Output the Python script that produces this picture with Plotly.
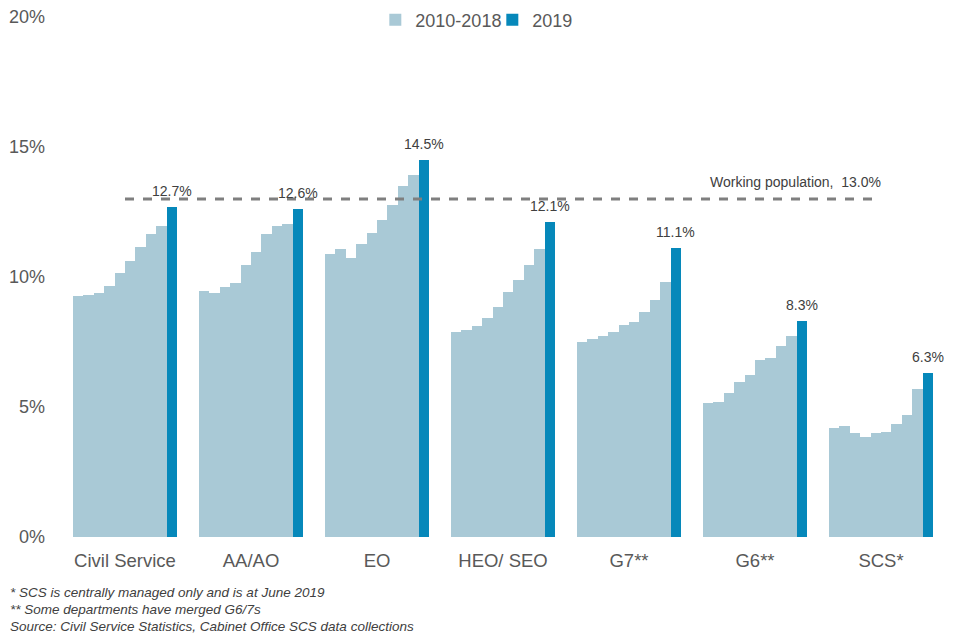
import plotly.graph_objects as go

# share of staff, %
grades = ["Civil Service", "AA/AO", "EO", "HEO/ SEO", "G7**", "G6**", "SCS*"]
years_past = ["2010", "2011", "2012", "2013", "2014", "2015", "2016", "2017", "2018"]
past = [
    [9.28, 9.32, 9.40, 9.67, 10.15, 10.62, 11.15, 11.65, 11.96],
    [9.46, 9.38, 9.63, 9.77, 10.46, 10.96, 11.65, 11.95, 12.04],
    [10.88, 11.07, 10.74, 11.27, 11.69, 12.19, 12.77, 13.50, 13.92],
    [7.88, 7.96, 8.11, 8.42, 8.85, 9.42, 9.88, 10.46, 11.08],
    [7.50, 7.62, 7.73, 7.88, 8.15, 8.27, 8.65, 9.13, 9.82],
    [5.15, 5.19, 5.54, 5.96, 6.23, 6.81, 6.88, 7.35, 7.73],
    [4.20, 4.27, 4.00, 3.85, 4.00, 4.04, 4.35, 4.69, 5.69],
]
latest = [12.7, 12.6, 14.5, 12.1, 11.1, 8.3, 6.3]
working_pop = 13.0
y_ticks = [0, 5, 10, 15, 20]

light = "#A9C9D6"
dark = "#0688BA"
txt = "#595959"
w = 0.0825

# x positions of each bar within its group
xs_past, ys_past = [], []
for i, vals in enumerate(past):
    for j, v in enumerate(vals):
        xs_past.append(i + (j - 4.5) * w)
        ys_past.append(v)
xs_new = [i + 4.5 * w for i in range(len(grades))]

fig = go.Figure()
fig.add_trace(go.Bar(x=xs_past, y=ys_past, width=w, name="2010-2018",
                     marker=dict(color=light, line_width=0)))
fig.add_trace(go.Bar(x=xs_new, y=latest, width=w * 0.95, name="2019",
                     marker=dict(color=dark, line_width=0)))

fig.add_trace(go.Scatter(x=[0, len(grades) - 1], y=[working_pop, working_pop], mode="lines",
                         line=dict(color="#7F7F7F", width=3, dash="dash"), showlegend=False,
                         hoverinfo="skip"))
fig.add_annotation(x=len(grades) - 1 + 0.012, y=working_pop, xanchor="right", yanchor="bottom",
                   yshift=7, text=f"Working population,  {working_pop:.1f}%", showarrow=False,
                   font=dict(size=14, color="#404040"))

# value labels on the 2019 bars
for x, v in zip(xs_new, latest):
    fig.add_annotation(x=x, y=v, yanchor="middle", yshift=16, text=f"{v:.1f}%",
                       showarrow=False, font=dict(size=14, color="#404040"))

notes = ["* SCS is centrally managed only and is at June 2019",
         "** Some departments have merged G6/7s",
         "Source: Civil Service Statistics, Cabinet Office SCS data collections"]
for k, n in enumerate(notes):
    fig.add_annotation(xref="paper", yref="paper", x=-54 / 882, y=(529 - (584 + k * 17)) / 520,
                       xanchor="left", yanchor="middle", text=f"<i>{n}</i>", showarrow=False,
                       font=dict(size=13.5, color="#404040"))

# the page adds an 8px body margin, so the margins are trimmed by 8px
fig.update_layout(width=960, height=640, barmode="overlay", bargap=0,
                  paper_bgcolor="white", plot_bgcolor="white",
                  margin=dict(l=54, r=24, t=9, b=111, autoexpand=False),
                  font=dict(family="Liberation Sans, Arial", color=txt, size=18),
                  legend=dict(orientation="h", xref="container", yref="container",
                              x=0.5045, xanchor="center", y=0.981, yanchor="middle",
                              entrywidthmode="pixels", entrywidth=72,
                              font=dict(size=18, color=txt), traceorder="normal"))
fig.update_xaxes(range=[-0.5, len(grades) - 0.5], tickvals=list(range(len(grades))), ticktext=grades,
                 showgrid=False, showline=False, zeroline=False, ticks="", ticklabelstandoff=10,
                 tickfont=dict(size=18.5), automargin=False)
fig.update_yaxes(range=[0, 20], tickvals=y_ticks, ticktext=[f"{t}%" for t in y_ticks],
                 showgrid=False, showline=False, zeroline=False, ticks="", ticklabelstandoff=16,
                 ticklabeloverflow="allow", tickfont=dict(size=18), automargin=False)

fig.write_html("out.html")
